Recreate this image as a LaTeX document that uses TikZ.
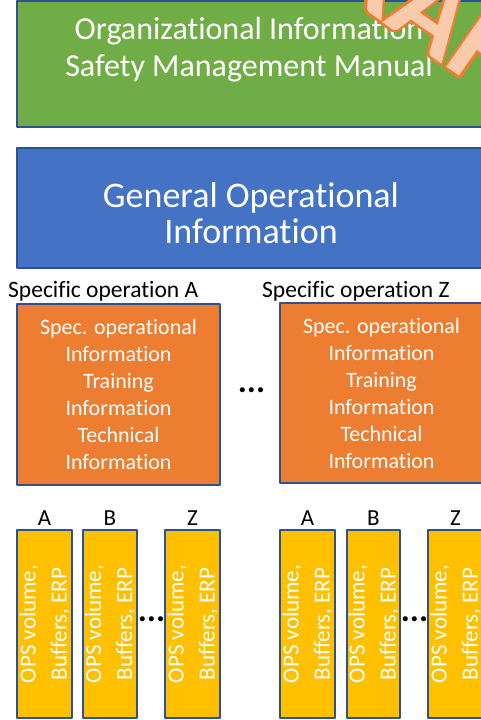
\documentclass[tikz,border=0pt]{standalone}
\usepackage{fontspec}
\setmainfont{Carlito}[Ligatures={NoCommon,NoRare,NoContextual}]
\usepackage{contour}
\usetikzlibrary{positioning}
\definecolor{smsgreen}{HTML}{70AD47}
\definecolor{opsblue}{HTML}{4472C4}
\definecolor{specorange}{HTML}{ED7D31}
\definecolor{bargold}{HTML}{FFC000}
\definecolor{edgeblue}{HTML}{2F528F}
\definecolor{draftpeach}{HTML}{F8CBAD}
\contourlength{2.5pt}
\begin{document}
\begin{tikzpicture}[x=1pt, y=-1pt, line join=round,
	box/.style={draw=edgeblue, line width=1.5pt, inner sep=0pt},
	spec/.style={box, fill=specorange, text=white, minimum width=203, minimum height=181, align=center, font=\fontsize{22}{27}\selectfont},
	bar/.style={box, fill=bargold, text=white, rotate=90, minimum width=188, minimum height=55, align=center, font=\fontsize{23}{31}\selectfont},
	oplabel/.style={inner sep=0pt, anchor=base west, font=\fontsize{23.5}{28}\selectfont},
	collabel/.style={inner sep=0pt, font=\fontsize{23}{27}\selectfont},
	dots/.style={inner sep=0pt, font=\fontsize{34}{34}\selectfont\bfseries}]
	\useasboundingbox (0,0) rectangle (481,720);
	\clip (0,0) rectangle (481,720);
	\node[box, fill=smsgreen, minimum width=465, minimum height=126] (sms) at (249.5,64) {};
	\node[text=white, align=center, font=\fontsize{32}{37}\selectfont] (smstext) at (249,50) {Organizational Information\\Safety Management Manual};
	\node[box, fill=opsblue, minimum width=465, minimum height=120] (gen) at (249.5,208) {};
	\node[text=white, align=center, font=\fontsize{36}{36}\selectfont] (gentext) at (251,213) {General Operational\\Information};
	\node[oplabel] (opa) at (8,297) {Specific operation A};
	\node[oplabel] (opz) at (262,297) {Specific operation Z};
	\node[spec] (speca) at (118.5,394.5) {Spec. operational\\Information\\Training\\Information\\Technical\\Information};
	\node[spec, minimum height=180] (specz) at (381.5,393) {Spec. operational\\Information\\Training\\Information\\Technical\\Information};
	\node[dots] (specdots) at (251.5,390) {...};
	\node[bar] (a1) at (44.5,624) {OPS volume,\\Buffers, ERP};
	\node[bar, minimum height=54] (b1) at (110,624) {OPS volume,\\Buffers, ERP};
	\node[bar] (z1) at (192.5,624) {OPS volume,\\Buffers, ERP};
	\node[bar] (a2) at (307.5,624) {OPS volume,\\Buffers, ERP};
	\node[bar, minimum height=53] (b2) at (373.5,624) {OPS volume,\\Buffers, ERP};
	\node[bar] (z2) at (455.5,624) {OPS volume,\\Buffers, ERP};
	\node[collabel, above=4pt of a1.east] (la1) {A};
	\node[collabel, above=4pt of b1.east] (lb1) {B};
	\node[collabel, above=4pt of z1.east] (lz1) {Z};
	\node[collabel, above=4pt of a2.east] (la2) {A};
	\node[collabel, above=4pt of b2.east] (lb2) {B};
	\node[collabel, above=4pt of z2.east] (lz2) {Z};
	\node[dots] (bardots1) at (151.5,619) {...};
	\node[dots] (bardots2) at (414.5,619) {...};
	\node[rotate=-35, inner sep=0pt, font=\fontsize{120}{120}\selectfont\bfseries] (draft) at (422,4) {\contour{specorange}{\textcolor{draftpeach}{DRAFT}}};
\end{tikzpicture}
\end{document}
